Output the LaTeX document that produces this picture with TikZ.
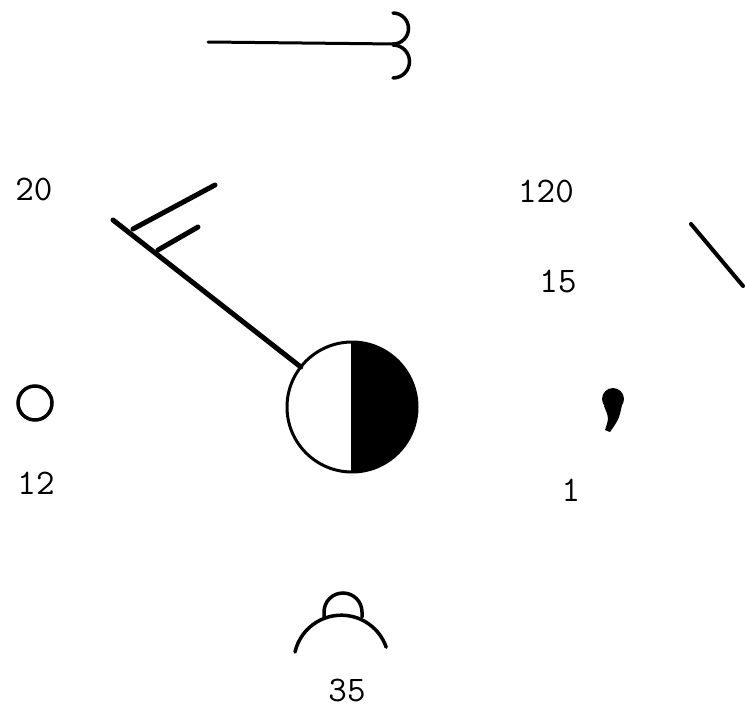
\documentclass[tikz,border=0pt]{standalone}
\usepackage{fontspec}
\usepackage{tikz}
\usetikzlibrary{calc}

\begin{document}
\begin{tikzpicture}[
  x=1pt, y=1pt,
  value/.style={inner sep=0pt,
                font=\fontsize{36}{40}\selectfont\ttfamily\addfontfeature{LetterSpace=12}},
  sym/.style={line width=3.5pt, line cap=round},
  barb/.style={line width=5pt, line cap=round}
]
  \useasboundingbox (0,0) rectangle (745,-723);

  % Station circle, right half filled
  \node[circle, draw, line width=3pt, minimum size=130pt, inner sep=0pt,
        outer sep=0pt] (stn) at (352,-407) {};
  \fill (stn.north) arc[start angle=90, end angle=-90, radius=65pt] -- cycle;
  \draw[line width=2.5pt] (stn.north) -- (stn.south);

  % Wind shaft with two barbs
  \coordinate (tip) at (113,-220);
  \draw[barb] (stn.142) -- (tip);
  \coordinate (bA) at (133,-229);
  \coordinate (bAend) at (215,-185);
  \coordinate (bB) at (158,-250);
  \coordinate (bBend) at (198,-227);
  \draw[barb] (bA) -- (bAend);
  \draw[barb] (bB) -- (bBend);

  % Values round the station
  \node[value] (temp) at (34,-189) {20};
  \node[value] (dew)  at (36,-483) {12};
  \node[value] (pres) at (546,-191) {120};
  \node[value] (tend) at (558,-281) {15};
  \node[value] (past) at (571,-490) {1};
  \node[value] (base) at (347,-690) {35};

  % Visibility circle
  \node[circle, draw, line width=3.5pt, minimum size=34pt, inner sep=0pt] (vis) at (35,-403) {};

  % Top symbol
  \coordinate (tl) at (208,-42);
  \coordinate (tr) at (396,-44);
  \draw[line width=3pt, line cap=round] (tl) -- (tr);
  \draw[sym] (393,-13) arc[start angle=90, end angle=-90, radius=15.5];
  \draw[sym] (393,-45) arc[start angle=90, end angle=-90, radius=16.5];

  % Tendency line
  \coordinate (tA) at (691,-224);
  \coordinate (tB) at (743,-286);
  \draw[line width=4pt, line cap=round] (tA) -- (tB);

  % Drizzle
  \fill (613,-399) circle (11);
  \fill (622,-405) .. controls (619,-419) .. (610,-432)
        -- (605,-430) .. controls (609,-418) .. (604,-406) -- cycle;

  % Cloud symbol
  \draw[sym] (295,-652) arc[start angle=167, end angle=19, radius=47.5];
  \draw[sym] (324,-617) -- (324,-612) arc[start angle=180, end angle=0, radius=19]
        -- (362,-617);
\end{tikzpicture}
\end{document}
